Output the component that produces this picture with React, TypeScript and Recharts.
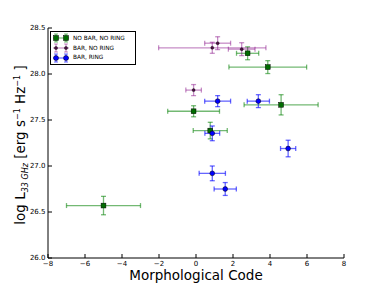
import React from 'react';
import { ScatterChart, Scatter, XAxis, YAxis, ErrorBar } from 'recharts';

const xTicks = [-8, -6, -4, -2, 0, 2, 4, 6, 8];
const yTicks = [26.0, 26.5, 27.0, 27.5, 28.0, 28.5];

const seriesNames = ['NO BAR, NO RING', 'BAR, NO RING', 'BAR, RING'];

const noBarX = [-5.0, -0.13, 0.77, 2.79, 3.88, 4.6];
const noBarY = [26.57, 27.595, 27.385, 28.225, 28.075, 27.665];
const noBarXErr = [2.0, 1.4, 0.92, 0.6, 2.1, 2.0];
const noBarYErr = [0.1, 0.06, 0.09, 0.07, 0.07, 0.11];

const barX = [0.88, 1.17, 2.47, -0.13];
const barY = [28.285, 28.335, 28.27, 27.825];
const barXErr = [2.9, 0.7, 0.72, 0.42];
const barYErr = [0.06, 0.07, 0.07, 0.06];

const ringX = [1.17, 3.37, 0.88, 4.98, 0.88, 1.58];
const ringY = [27.705, 27.705, 27.355, 27.19, 26.92, 26.75];
const ringXErr = [0.7, 0.6, 0.4, 0.41, 0.71, 0.6];
const ringYErr = [0.06, 0.07, 0.08, 0.09, 0.08, 0.07];

const zip = (xs: number[], ys: number[], xe: number[], ye: number[]) =>
  xs.map((x, i) => ({ x, y: ys[i], xe: xe[i], ye: ye[i] }));

const noBarData = zip(noBarX, noBarY, noBarXErr, noBarYErr);
const barData = zip(barX, barY, barXErr, barYErr);
const ringData = zip(ringX, ringY, ringXErr, ringYErr);

const FONT = 'DejaVu Sans, Verdana, sans-serif';
const GREEN_ERR = 'rgba(0,128,0,0.55)';
const PURPLE_ERR = 'rgba(128,0,128,0.45)';
const BLUE_ERR = 'rgba(0,0,255,0.6)';

const Square = (p: any) => (
  <rect x={p.cx - 2.4} y={p.cy - 2.4} width={4.8} height={4.8} fill="#006d00" stroke="#000" strokeWidth={0.5} />
);
const Circle = (p: any) => <circle cx={p.cx} cy={p.cy} r={2.4} fill="#0000ff" stroke="#000" strokeWidth={0.5} />;
const Small = (p: any) => <circle cx={p.cx} cy={p.cy} r={1.5} fill="#4a0f40" stroke="#000" strokeWidth={0.4} />;

const fmtX = (v: number) => String(v).replace('-', '\u2212');
const fmtY = (v: number) => v.toFixed(1);

const tickStyle = { fontSize: 7, fontFamily: FONT, fill: '#000' };

const LegendIcon = ({ kind, color }: { kind: string; color: string }) => {
  const mk = (cx: number) =>
    kind === 'sq' ? (
      <rect x={cx - 2.5} y={2.5} width={5} height={5} fill="#006d00" stroke="#000" strokeWidth={0.5} />
    ) : kind === 'ci' ? (
      <circle cx={cx} cy={5} r={2.5} fill="#0000ff" stroke="#000" strokeWidth={0.5} />
    ) : (
      <circle cx={cx} cy={5} r={1.6} fill="#4a0f40" stroke="#000" strokeWidth={0.4} />
    );
  return (
    <svg width={18} height={10} style={{ display: 'block' }}>
      <line x1={1} y1={5} x2={17} y2={5} stroke={color} strokeWidth={1.2} />
      {[4, 14].map((cx) => (
        <g key={cx}>
          <line x1={cx} y1={1} x2={cx} y2={9} stroke={color} strokeWidth={1.2} />
          <line x1={cx - 2} y1={1} x2={cx + 2} y2={1} stroke={color} strokeWidth={1} />
          <line x1={cx - 2} y1={9} x2={cx + 2} y2={9} stroke={color} strokeWidth={1} />
        </g>
      ))}
      {mk(4)}
      {mk(14)}
    </svg>
  );
};

export default function App() {
  const legendItems = [
    { name: seriesNames[0], kind: 'sq', color: GREEN_ERR },
    { name: seriesNames[1], kind: 'sm', color: PURPLE_ERR },
    { name: seriesNames[2], kind: 'ci', color: BLUE_ERR },
  ];
  return (
    <div style={{ position: 'absolute', left: 0, top: 0, width: 382, height: 287, background: '#fff' }}>
      <ScatterChart width={382} height={287} margin={{ top: 28, right: 38, bottom: 0, left: 0 }}>
        <XAxis
          xAxisId={0}
          type="number"
          dataKey="x"
          domain={[-8, 8]}
          ticks={xTicks}
          tickFormatter={fmtX}
          tickSize={-4}
          tickMargin={7}
          height={29}
          allowDataOverflow
          stroke="#000"
          tick={tickStyle}
          label={{
            content: () => (
              <text x={196} y={280} textAnchor="middle" fontSize={13.5} fontFamily={FONT} fill="#000">
                Morphological Code
              </text>
            ),
          }}
        />
        <XAxis
          xAxisId="top"
          orientation="top"
          type="number"
          dataKey="x"
          domain={[-8, 8]}
          ticks={xTicks}
          tickSize={-4}
          height={0}
          tick={false}
          allowDataOverflow
          stroke="#000"
        />
        <YAxis
          yAxisId={0}
          type="number"
          dataKey="y"
          domain={[26, 28.5]}
          ticks={yTicks}
          tickFormatter={fmtY}
          tickSize={-4}
          tickMargin={6.5}
          width={48}
          allowDataOverflow
          stroke="#000"
          tick={tickStyle}
          label={{
            content: () => (
              <text
                transform="translate(25,145) rotate(-90)"
                textAnchor="middle"
                fontSize={13.5}
                fontFamily={FONT}
                fill="#000"
              >
                log L
                <tspan fontSize={8} dy={3} fontStyle="italic">33 GHz</tspan>
                <tspan dy={-3}> [erg s</tspan>
                <tspan fontSize={8} dy={-5}>−1</tspan>
                <tspan dy={5}>  Hz</tspan>
                <tspan fontSize={8} dy={-5}>−1</tspan>
                <tspan dy={5}> ]</tspan>
              </text>
            ),
          }}
        />
        <YAxis
          yAxisId="right"
          orientation="right"
          type="number"
          dataKey="y"
          domain={[26, 28.5]}
          ticks={yTicks}
          tickSize={-4}
          width={0}
          tick={false}
          allowDataOverflow
          stroke="#000"
        />
        <Scatter data={noBarData} shape={Square} isAnimationActive={false}>
          <ErrorBar dataKey="xe" direction="x" width={2.5} stroke={GREEN_ERR} strokeWidth={1.3} />
          <ErrorBar dataKey="ye" direction="y" width={2.5} stroke={GREEN_ERR} strokeWidth={1.3} />
        </Scatter>
        <Scatter data={barData} shape={Small} isAnimationActive={false}>
          <ErrorBar dataKey="xe" direction="x" width={2.5} stroke={PURPLE_ERR} strokeWidth={1.3} />
          <ErrorBar dataKey="ye" direction="y" width={2.5} stroke={PURPLE_ERR} strokeWidth={1.3} />
        </Scatter>
        <Scatter data={ringData} shape={Circle} isAnimationActive={false}>
          <ErrorBar dataKey="xe" direction="x" width={2.5} stroke={BLUE_ERR} strokeWidth={1.3} />
          <ErrorBar dataKey="ye" direction="y" width={2.5} stroke={BLUE_ERR} strokeWidth={1.3} />
        </Scatter>
      </ScatterChart>
      <div
        style={{
          position: 'absolute',
          left: 50,
          top: 30.5,
          width: 83,
          height: 31,
          border: '1px solid #000',
          background: '#fff',
          fontFamily: FONT,
          fontSize: 5.8,
          padding: '1.5px 0 0 0.5px',
          boxSizing: 'content-box',
        }}
      >
        {legendItems.map((it) => (
          <div key={it.name} style={{ display: 'flex', alignItems: 'center', height: 9.8 }}>
            <LegendIcon kind={it.kind} color={it.color} />
            <span style={{ marginLeft: 3.5, whiteSpace: 'nowrap' }}>{it.name}</span>
          </div>
        ))}
      </div>
    </div>
  );
}
